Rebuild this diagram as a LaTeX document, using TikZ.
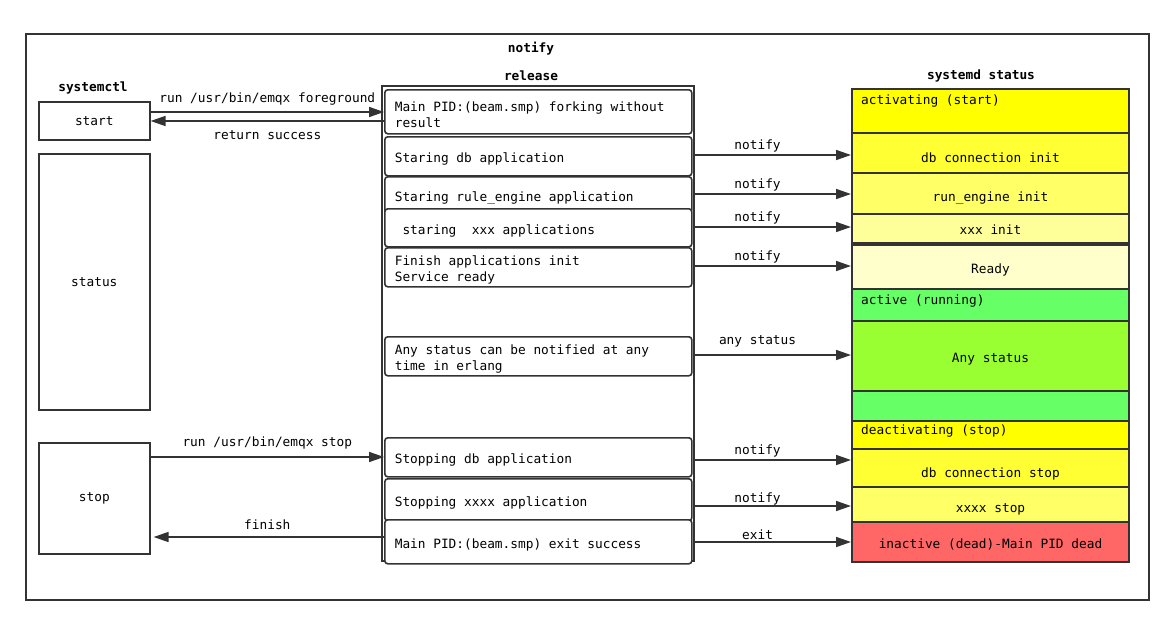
\documentclass[tikz,border=0pt]{standalone}
\usepackage{fontspec}
\setmainfont{DejaVu Sans Mono}
\usetikzlibrary{arrows.meta}
\definecolor{linec}{HTML}{333333}
\definecolor{yA}{HTML}{FFFF00}
\definecolor{yB}{HTML}{FFFF33}
\definecolor{yC}{HTML}{FFFF66}
\definecolor{yD}{HTML}{FFFF99}
\definecolor{yE}{HTML}{FFFFCC}
\definecolor{gA}{HTML}{66FF66}
\definecolor{gB}{HTML}{99FF33}
\definecolor{rA}{HTML}{FF6666}
\begin{document}
\begin{tikzpicture}[x=1pt, y=-1pt, font=\fontsize{12.8}{16}\selectfont,
  frame/.style={draw=linec, line width=1.6pt},
  cmdbox/.style={frame, anchor=north west, minimum width=111pt, inner sep=0pt},
  relbox/.style={frame, rounded corners=3pt, fill=white, anchor=north west,
    text width=287pt, inner xsep=10pt, inner ysep=0pt, align=left,
    execute at begin node={\spaceskip=0pt\xspaceskip=0pt\rule{0pt}{16pt}}},
  statbox/.style={draw=linec, line width=2pt, anchor=north west,
    minimum width=277pt, inner sep=0pt},
  low/.style={text depth=3pt, text height=#1},
  corner/.style={anchor=north west, inner sep=0pt, xshift=10pt, yshift=-7pt},
  title/.style={font=\fontsize{12.8}{16}\selectfont\bfseries},
  msg/.style={draw=linec, line width=1.6pt, -{Triangle[length=15pt,width=10pt]}},
  lab/.style={above, inner sep=2pt}]
\useasboundingbox (0,0) rectangle (1173,624);
\node[frame, anchor=north west, minimum width=1123pt, minimum height=566pt] (diagram) at (25,33) {};
\node[title] (ttl) at (531,49) {notify};

% systemctl
\node[title] (ctltitle) at (93,88) {systemctl};
\node[cmdbox, minimum height=38pt] (start) at (38,101) {start};
\node[cmdbox, minimum height=256pt] (status) at (38,153) {status};
\node[cmdbox, minimum height=111pt] (stop) at (38,442) {stop};

% release
\node[title] (reltitle) at (531,76) {release};
\node[frame, anchor=north west, minimum width=312pt, minimum height=475pt] (release) at (381,85) {};
\node[relbox, minimum height=44pt] (b1) at (384,89) {Main PID:(beam.smp) forking without\\result};
\node[relbox, minimum height=39pt] (b2) at (384,136) {Staring db application};
\node[relbox, minimum height=36pt] (b3) at (384,176) {Staring rule\_engine application};
\node[relbox, minimum height=38pt] (b4) at (384,208) {\ staring\ \ xxx applications};
\node[relbox, minimum height=39pt] (b5) at (384,247) {Finish applications init\\Service ready};
\node[relbox, minimum height=39pt] (b6) at (384,336) {Any status can be notified at any\\time in erlang};
\node[relbox, minimum height=39pt] (b7) at (384,437) {Stopping db application};
\node[relbox, minimum height=42pt] (b8) at (384,478) {Stopping xxxx application};
\node[relbox, minimum height=44pt] (b9) at (384,519) {Main PID:(beam.smp) exit success};

% systemd status
\node[title] (sdtitle) at (981,76) {systemd status};
\node[statbox, fill=yA, minimum height=44pt, label={[corner]north west:activating (start)}] (s1) at (851,88) {};
\node[statbox, fill=yB, minimum height=40pt, low=22pt] (s2) at (851,132) {db connection init};
\node[statbox, fill=yC, minimum height=41pt, low=19pt] (s3) at (851,172) {run\_engine init};
\node[statbox, fill=yD, minimum height=29pt, low=15pt] (s4) at (851,213) {xxx init};
\node[statbox, fill=yE, minimum height=44pt, low=16pt] (s5) at (851,244) {Ready};
\node[statbox, fill=gA, minimum height=32pt, label={[corner]north west:active (running)}] (s6) at (851,288) {};
\node[statbox, fill=gB, minimum height=70pt, low=16pt] (s7) at (851,320) {Any status};
\node[statbox, fill=gA, minimum height=30pt] (s8) at (851,390) {};
\node[statbox, fill=yA, minimum height=28pt, label={[corner, yshift=2pt]north west:deactivating (stop)}] (s9) at (851,420) {};
\node[statbox, fill=yB, minimum height=38pt, low=22pt] (s10) at (851,448) {db connection stop};
\node[statbox, fill=yC, minimum height=35pt, low=19pt] (s11) at (851,486) {xxxx stop};
\node[statbox, fill=rA, minimum height=40pt, low=16pt] (s12) at (851,521) {inactive (dead)-Main PID dead};

% messages
\draw[msg] (start.east |- 0,112) -- node[lab, inner sep=6pt] {run /usr/bin/emqx foreground} (b1.west |- 0,112);
\draw[msg] (b1.west |- 0,121) -- node[below, inner sep=9pt] {return success} (start.east |- 0,121);
\draw[msg] (b2.east |- 0,155) -- node[lab, pos=.41] {notify} (s2.west |- 0,155);
\draw[msg] (b3.east |- 0,194) -- node[lab, pos=.41] {notify} (s3.west |- 0,194);
\draw[msg] (b4.east |- 0,227) -- node[lab, pos=.41] {notify} (s4.west |- 0,227);
\draw[msg] (b5.east |- 0,266) -- node[lab, pos=.41] {notify} (s5.west |- 0,266);
\draw[msg] (b6.east |- 0,355) -- node[lab, pos=.41, inner sep=7pt] {any status} (s7.west |- 0,355);
\draw[msg] (stop.east |- 0,457) -- node[lab, inner sep=7pt] {run /usr/bin/emqx stop} (b7.west |- 0,457);
\draw[msg] (b7.east |- 0,460) -- node[lab, pos=.41] {notify} (s10.west |- 0,460);
\draw[msg] (b8.east |- 0,506) -- node[lab, pos=.41, inner sep=0pt] {notify} (s11.west |- 0,506);
\draw[msg] (b9.east |- 0,542) -- node[lab, pos=.41] {exit} (s12.west |- 0,542);
\draw[msg, shorten >=3pt] (b9.west |- 0,537) -- node[lab, inner sep=7pt] {finish} (stop.east |- 0,537);
\end{tikzpicture}
\end{document}
